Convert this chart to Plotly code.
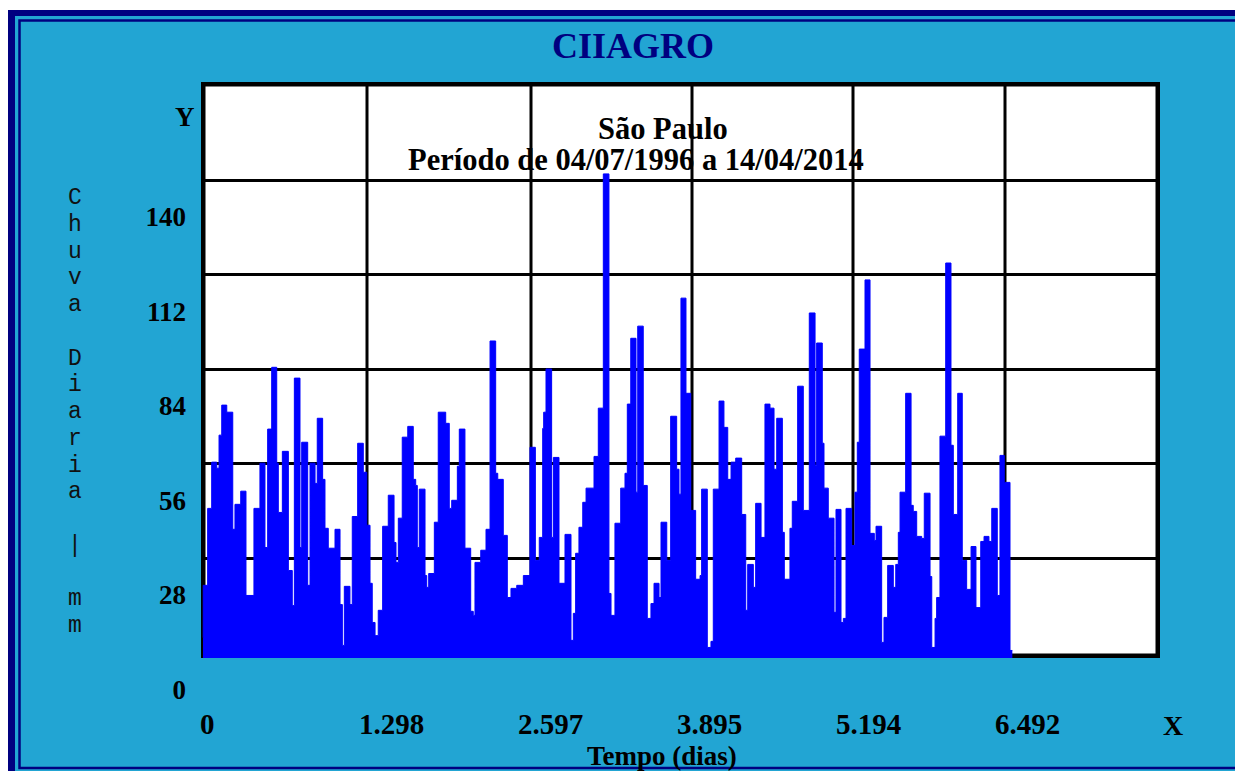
import plotly.graph_objects as go

# ---------------- data ----------------
# start day of each step of the daily-rain envelope, and its height in mm
seg_start_day = [
    0, 2, 38, 71, 112, 131, 153, 194, 243, 261,
    308, 351, 416, 465, 506, 528, 561, 602, 615, 648,
    697, 729, 746, 792, 806, 855, 874, 915, 933, 977,
    996, 1023, 1078, 1119, 1138, 1154, 1200, 1219, 1263, 1309,
    1337, 1364, 1382, 1405, 1431, 1467, 1513, 1560, 1576, 1595,
    1627, 1672, 1717, 1737, 1750, 1766, 1813, 1827, 1843, 1889,
    1921, 1982, 2011, 2031, 2077, 2093, 2139, 2186, 2207, 2221,
    2268, 2311, 2344, 2390, 2407, 2452, 2485, 2515, 2562, 2616,
    2670, 2714, 2746, 2774, 2782, 2801, 2847, 2861, 2907, 2956,
    3005, 3024, 3043, 3070, 3101, 3128, 3193, 3228, 3269, 3315,
    3332, 3364, 3411, 3446, 3465, 3493, 3536, 3550, 3595, 3628,
    3658, 3683, 3724, 3740, 3787, 3819, 3868, 3887, 3903, 3944,
    3983, 4023, 4059, 4072, 4118, 4148, 4167, 4214, 4254, 4285,
    4312, 4350, 4399, 4432, 4448, 4494, 4513, 4557, 4589, 4630,
    4663, 4685, 4731, 4747, 4793, 4812, 4856, 4902, 4951, 4998,
    5011, 5057, 5071, 5106, 5153, 5169, 5210, 5229, 5251, 5297,
    5324, 5343, 5359, 5406, 5447, 5482, 5496, 5542, 5561, 5591,
    5637, 5657, 5678, 5692, 5738, 5782, 5800, 5828, 5869, 5890,
    5937, 5951, 5978, 5991, 6018, 6065, 6108, 6127, 6163, 6200,
    6236, 6272, 6312, 6351, 6378, 6418, 6441, 6486, 6508, 6543,
    6590,
]
rain_mm = [
    4.4, 19.9, 42.7, 56.4, 54.6, 64.4, 73.3, 71.2, 36.5, 43.9,
    47.8, 16.9, 42.7, 56.1, 31.1, 66.2, 84.5, 56.1, 41.5, 59.6,
    24.3, 13.9, 81.3, 31.1, 62.3, 19.9, 56.1, 50.1, 69.4, 51.3,
    36.8, 30.9, 36.5, 14.2, 2.1, 19.6, 14.2, 40.3, 62.0, 53.4,
    37.7, 20.5, 8.9, 5.0, 12.5, 37.4, 46.6, 32.6, 26.7, 39.8,
    63.8, 67.0, 51.3, 49.5, 31.1, 48.4, 22.8, 19.3, 23.4, 38.6,
    71.2, 67.9, 42.7, 45.1, 55.2, 66.2, 30.9, 12.2, 11.0, 26.7,
    30.3, 36.5, 92.3, 53.1, 51.3, 34.7, 16.3, 19.0, 19.9, 22.8,
    60.8, 27.3, 34.1, 66.4, 71.2, 84.0, 34.1, 57.8, 20.5, 35.0,
    3.6, 11.6, 29.4, 37.1, 44.5, 48.7, 58.1, 72.4, 141.8, 17.5,
    11.0, 38.3, 48.7, 53.1, 73.6, 93.1, 47.5, 96.7, 49.5, 10.1,
    14.5, 20.5, 16.3, 38.6, 27.3, 70.0, 54.3, 46.9, 105.0, 76.8,
    42.1, 21.7, 22.8, 48.4, 1.5, 3.3, 48.4, 74.5, 66.7, 51.3,
    56.4, 57.6, 40.9, 12.5, 26.1, 19.3, 44.2, 34.1, 73.6, 72.4,
    54.3, 69.4, 35.6, 21.7, 36.8, 44.8, 78.9, 42.1, 100.6, 55.5,
    91.7, 62.0, 48.7, 39.8, 11.9, 42.4, 8.9, 10.1, 42.7, 31.7,
    47.5, 62.3, 89.9, 110.4, 35.3, 33.2, 37.4, 3.0, 10.4, 25.8,
    19.3, 26.1, 35.6, 47.5, 76.8, 43.6, 41.8, 34.4, 33.8, 47.2,
    22.5, 1.5, 10.1, 16.3, 64.1, 115.4, 61.4, 40.9, 76.8, 27.3,
    18.7, 31.4, 13.3, 32.9, 34.4, 32.9, 42.7, 16.9, 58.4, 50.4,
    0.6,
]
series_end_day = 6609

x_tick_vals = [0, 1298, 2597, 3895, 5194, 6492]
x_tick_text = ["0", "1.298", "2.597", "3.895", "5.194", "6.492"]
y_tick_vals = [0, 28, 56, 84, 112, 140]
y_tick_text = ["0", "28", "56", "84", "112", "140"]

title_text = "CIIAGRO"
station_text = "São Paulo"
period_text = "Período de 04/07/1996 a 14/04/2014"
x_title = "Tempo (dias)"
y_title = "Chuva Diaria | mm"

# ---------------- geometry / style ----------------
OFF = 8                      # browser body margin
FIG_W, FIG_H = 1235, 763
PL, PR, PT, PB = 201, 1160, 82, 658          # plot area (page px)
X0_PAGE, DAYS_PER_PX = 203, 8.166
Y0_PAGE, PX_PER_MM = 652.5, 3.375

x_range = [(PL - X0_PAGE) * DAYS_PER_PX, (PR - X0_PAGE) * DAYS_PER_PX]
y_range = [-(PB - Y0_PAGE) / PX_PER_MM, (Y0_PAGE - PT) / PX_PER_MM]
grid_x_days = [(p - X0_PAGE) * DAYS_PER_PX for p in (367, 531, 692, 853, 1005)]

BLUE = "#22A5D3"
NAVY = "#000080"
BAR = "#0000FF"
SERIF = "Liberation Serif"
MONO = "Liberation Mono"


def pxx(x):
    return (x - PL) / (PR - PL)


def pxy(y):
    return (PB - y) / (PB - PT)


shapes = [
    dict(type="rect", xref="paper", yref="paper", x0=pxx(0), x1=pxx(1400),
         y0=pxy(10), y1=pxy(0), fillcolor="white", line_width=0, layer="below"),
    dict(type="rect", xref="paper", yref="paper", x0=pxx(8), x1=pxx(15),
         y0=pxy(900), y1=pxy(10), fillcolor=NAVY, line_width=0, layer="below"),
    dict(type="rect", xref="paper", yref="paper", x0=pxx(8), x1=pxx(1400),
         y0=pxy(16), y1=pxy(10), fillcolor=NAVY, line_width=0, layer="below"),
    dict(type="rect", xref="paper", yref="paper", x0=pxx(19.5), x1=pxx(1400),
         y0=pxy(768), y1=pxy(20.5), fillcolor="rgba(0,0,0,0)",
         line=dict(color=NAVY, width=2.5), layer="below"),
    dict(type="rect", xref="paper", yref="paper", x0=pxx(203.25), x1=pxx(1157.75),
         y0=pxy(655.75), y1=pxy(84.25), fillcolor="white",
         line=dict(color="black", width=4.5), layer="below"),
]
for d in grid_x_days:
    shapes.append(dict(type="line", xref="x", yref="paper", x0=d, x1=d,
                       y0=pxy(656), y1=pxy(84), line=dict(color="black", width=3),
                       layer="below"))

fig = go.Figure()
fig.add_trace(go.Scatter(x=[seg_start_day[0], series_end_day], y=[y_range[0], y_range[0]],
                         mode="lines", line=dict(width=0, color=BAR),
                         hoverinfo="skip", showlegend=False))
fig.add_trace(go.Scatter(x=seg_start_day + [series_end_day], y=rain_mm + [rain_mm[-1]],
                         mode="lines", line=dict(shape="hv", color=BAR, width=1),
                         fill="tonexty", fillcolor=BAR, showlegend=False,
                         name="Chuva"))


def note(text, x, y, size, family=SERIF, bold=True, color="black"):
    return dict(text=text, xref="paper", yref="paper", x=pxx(x), y=pxy(y),
                xanchor="center", yanchor="middle", showarrow=False,
                font=dict(family=family, size=size, color=color,
                          weight="bold" if bold else "normal"))


annotations = [
    note(station_text, 663, 129, 30.5),
    note(period_text, 636, 160, 30.5),
    note("Y", 185, 117, 27),
    note("X", 1173, 725, 28),
    note(x_title, 662, 756, 27),
]
MONO_SIZE = 23
for k, ch in enumerate(y_title):
    if ch.strip():
        base = 205 + 26.75 * k
        annotations.append(note(ch, 75, base - 0.3 * MONO_SIZE, MONO_SIZE,
                                family=MONO, bold=False, color="#111111"))

fig.update_layout(
    width=FIG_W, height=FIG_H,
    margin=dict(l=PL - OFF, r=FIG_W - (PR - OFF), t=PT - OFF, b=FIG_H - (PB - OFF),
                pad=0, autoexpand=False),
    paper_bgcolor=BLUE, plot_bgcolor="rgba(0,0,0,0)",
    showlegend=False,
    title=dict(text=title_text, xref="container", yref="container",
               x=(633 - OFF) / FIG_W, xanchor="center",
               y=1 - (45.5 - OFF) / FIG_H, yanchor="middle",
               font=dict(family=SERIF, size=36, color=NAVY, weight="bold")),
    xaxis=dict(range=x_range, showgrid=False, zeroline=False, showline=False,
               ticks="", tickvals=x_tick_vals, ticktext=x_tick_text,
               ticklabelposition="outside right", ticklabelshift=-3,
               ticklabelstandoff=46, automargin=False, fixedrange=True,
               tickfont=dict(family=SERIF, size=29, color="black", weight="bold")),
    yaxis=dict(range=y_range, showgrid=True, gridcolor="black", gridwidth=3,
               zeroline=True, zerolinecolor="rgba(0,0,0,0)", showline=False,
               ticks="", tickvals=y_tick_vals, ticktext=y_tick_text,
               ticklabelshift=37, ticklabelstandoff=14, automargin=False,
               fixedrange=True,
               tickfont=dict(family=SERIF, size=27, color="black", weight="bold")),
    shapes=shapes,
    annotations=annotations,
)

fig.write_html("out.html", config={"displayModeBar": False},
               post_script="document.body.style.overflow='hidden';")
